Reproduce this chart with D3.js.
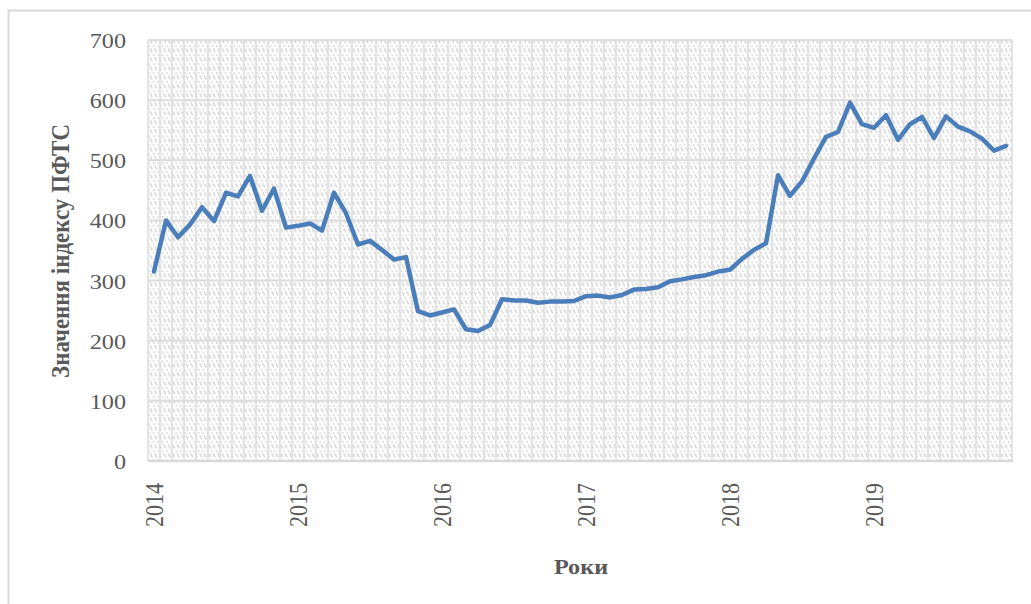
<!DOCTYPE html>
<html>
<head>
<meta charset="utf-8">
<script src="https://cdn.jsdelivr.net/npm/d3@7"></script>
<style>
  html, body { margin: 0; padding: 0; background: #ffffff; }
  svg { display: block; }
</style>
</head>
<body>
<svg id="chart" width="1031" height="604"></svg>
<script>
// ---- data ----
const years = [2014, 2015, 2016, 2017, 2018, 2019];
const months = years.flatMap(y => d3.range(1, 13).map(m => `${y}-${String(m).padStart(2, "0")}`));
const pftsValues = [
  315, 400, 372, 393, 422, 399, 446, 440, 474, 416, 453, 388,
  391, 395, 383, 446, 412, 360, 366, 351, 335, 339, 249, 242,
  247, 252, 219, 216, 226, 269, 267, 267, 263, 265, 265, 266,
  274, 275, 272, 276, 285, 286, 289, 299, 302, 306, 309, 315,
  318, 336, 351, 362, 475, 441, 465, 503, 539, 547, 596, 560,
  554, 575, 534, 560, 572, 537, 573, 556, 548, 536, 516, 524
];
const yTicks = [0, 100, 200, 300, 400, 500, 600, 700];
const yTitle = "Значення індексу ПФТС";
const xTitle = "Роки";

(function () {
const svg = d3.select("#chart");
const W = 1031, H = 604;
const pL = 148, pR = 1012, pT = 40, pB = 461;
const sx = 1.1; // horizontal stretch of text as in the reference
const FONT = "Liberation Serif, Times New Roman, serif";

const x = d3.scaleBand().domain(months).range([pL, pR]).padding(0);
const y = d3.scaleLinear().domain([0, 700]).range([pB, pT]);

// outer frame
svg.append("rect")
  .attr("x", 8.5).attr("y", 10.5)
  .attr("width", W + 10).attr("height", H + 10)
  .attr("fill", "#ffffff").attr("stroke", "#d9d9d9").attr("stroke-width", 2);

// hatch pattern
const defs = svg.append("defs");
const pat = defs.append("pattern")
  .attr("id", "hatch").attr("patternUnits", "userSpaceOnUse")
  .attr("width", 4.5).attr("height", 9);
pat.append("rect").attr("width", 4.5).attr("height", 9).attr("fill", "#ffffff");
pat.append("line").attr("x1", -1).attr("y1", -2).attr("x2", 5.5).attr("y2", 11)
  .attr("stroke", "#d4d4d4").attr("stroke-width", 1.4).attr("stroke-dasharray", "4.5 1.5");

svg.append("rect")
  .attr("x", pL).attr("y", pT)
  .attr("width", pR - pL).attr("height", pB - pT)
  .attr("fill", "url(#hatch)");

// vertical gridlines (each month boundary)
svg.append("g").selectAll("line")
  .data(months)
  .join("line")
  .attr("x1", d => x(d)).attr("x2", d => x(d))
  .attr("y1", pT).attr("y2", pB)
  .attr("stroke", "#dedede").attr("stroke-width", 1.6);
svg.append("line")
  .attr("x1", pR).attr("x2", pR).attr("y1", pT).attr("y2", pB)
  .attr("stroke", "#dedede").attr("stroke-width", 1.6);

// horizontal gridlines
svg.append("g").selectAll("line")
  .data(yTicks.filter(d => d > 0))
  .join("line")
  .attr("x1", pL).attr("x2", pR)
  .attr("y1", d => y(d)).attr("y2", d => y(d))
  .attr("stroke", "#dddddd").attr("stroke-width", 2);

// y axis labels
const yAxis = d3.axisLeft(y).tickValues(yTicks).tickSize(0).tickPadding(0);
const gy = svg.append("g").attr("transform", `translate(${pL},0)`).call(yAxis);
gy.select(".domain").remove();
gy.selectAll("text")
  .attr("x", -22 / sx)
  .attr("dy", "0.34em")
  .attr("transform", `scale(${sx},1)`)
  .attr("font-family", FONT)
  .attr("font-size", 22)
  .attr("fill", "#595959");

// x axis
const janMonths = months.filter(m => m.endsWith("-01"));
const xAxis = d3.axisBottom(x).tickValues(janMonths).tickSize(0).tickPadding(0)
  .tickFormat(d => d.slice(0, 4));
const gx = svg.append("g").attr("transform", `translate(0,${pB})`).call(xAxis);
gx.select(".domain").remove();
gx.selectAll("text")
  .attr("x", 0).attr("y", 0).attr("dy", "0.34em")
  .attr("text-anchor", "end")
  .attr("transform", `translate(1,22) scale(${sx},1) rotate(-90)`)
  .attr("font-family", FONT)
  .attr("font-size", 22)
  .attr("fill", "#595959");

// bottom axis line
svg.append("line")
  .attr("x1", pL).attr("x2", pR + 1)
  .attr("y1", pB).attr("y2", pB)
  .attr("stroke", "#d9d9d9").attr("stroke-width", 2.5);

// the series line
const line = d3.line()
  .x((d, i) => x(months[i]) + x.bandwidth() / 2)
  .y(d => y(d));
svg.append("path")
  .datum(pftsValues)
  .attr("d", line)
  .attr("fill", "none")
  .attr("stroke", "#4a7ebb")
  .attr("stroke-width", 4.5)
  .attr("stroke-linejoin", "round")
  .attr("stroke-linecap", "round");

// axis titles
svg.append("text")
  .attr("transform", `translate(60,251) scale(${sx},1) rotate(-90)`)
  .attr("text-anchor", "middle")
  .attr("dy", "0.35em")
  .attr("font-family", FONT)
  .attr("font-weight", "bold")
  .attr("font-size", 23)
  .attr("fill", "#595959")
  .text(yTitle);

svg.append("text")
  .attr("transform", `translate(581,566) scale(${sx},1)`)
  .attr("text-anchor", "middle")
  .attr("dy", "0.35em")
  .attr("font-family", FONT)
  .attr("font-weight", "bold")
  .attr("font-size", 22)
  .attr("fill", "#595959")
  .text(xTitle);
})();
</script>
</body>
</html>
